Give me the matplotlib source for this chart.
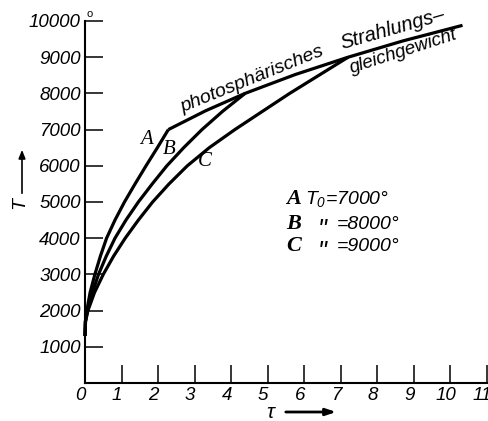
import matplotlib
matplotlib.use("Agg")
import matplotlib.pyplot as plt
from matplotlib.patches import FancyArrowPatch
from matplotlib.transforms import ScaledTranslation

plt.rcParams["mathtext.fontset"] = "custom"
plt.rcParams["mathtext.it"] = "Liberation Sans:italic"
plt.rcParams["mathtext.rm"] = "Liberation Sans:italic"

# Kurven A, B, C (tau, T)
tau_A = [0.0, 0.01, 0.05, 0.14, 0.27, 0.42, 0.59, 0.82, 1.08, 1.37, 1.67, 1.98, 2.28]
T_A = [1300, 1700, 2000, 2500, 3000, 3500, 4000, 4500, 5000, 5500, 6000, 6500, 7000]

tau_B = [0.0, 0.012, 0.07, 0.2, 0.37, 0.58, 0.82, 1.12, 1.46, 1.84, 2.24, 2.7, 3.2, 3.76, 4.38]
T_B = [1300, 1700, 2000, 2500, 3000, 3500, 4000, 4500, 5000, 5500, 6000, 6500, 7000, 7500, 8000]

tau_C = [0.0, 0.015, 0.08, 0.26, 0.5, 0.78, 1.1, 1.46, 1.85, 2.3, 2.8, 3.4, 4.1, 4.85, 5.6, 6.4, 7.2]
T_C = [1300, 1700, 2000, 2500, 3000, 3500, 4000, 4500, 5000, 5500, 6000, 6500, 7000, 7500,
       8000, 8500, 9000]

# photosphärisches Strahlungsgleichgewicht
tau_eq = [2.28, 3.3, 4.38, 5.75, 7.2, 8.7, 10.33]
T_eq = [7000, 7520, 8000, 8520, 9000, 9450, 9880]

x_ticks = list(range(0, 12))
y_ticks = list(range(1000, 11000, 1000))
legend_rows = [("A", "$T_0$=7000°"), ("B", "=8000°"), ("C", "=9000°")]

sans = "Liberation Sans"
serif = "Liberation Serif"

fig = plt.figure(figsize=(4.88, 4.21), dpi=100)
ax = fig.add_axes([85 / 488, 38 / 421, 402 / 488, 362 / 421])

for t, T in [(tau_A, T_A), (tau_B, T_B), (tau_C, T_C), (tau_eq, T_eq)]:
    ax.plot(t, T, color="black", linewidth=2.3, solid_capstyle="butt",
            solid_joinstyle="miter", clip_on=False)

ax.set_xlim(0, 11)
ax.set_ylim(0, 10000)
ax.spines["top"].set_visible(False)
ax.spines["right"].set_visible(False)
for s in ["left", "bottom"]:
    ax.spines[s].set_linewidth(1.5)

ax.set_xticks(x_ticks)
ax.set_xticklabels([str(v) for v in x_ticks], fontfamily=sans, fontstyle="italic", fontsize=13.5)
ax.set_yticks(y_ticks)
ax.set_yticklabels([str(v) for v in y_ticks], fontfamily=sans, fontstyle="italic", fontsize=13.5)
ax.tick_params(direction="in", length=13, width=1.1, pad=3)
# Zahlen etwas nach links versetzt wie im Original
shift = ScaledTranslation(-0.045, 0, fig.dpi_scale_trans)
for lab in ax.get_xticklabels():
    lab.set_transform(lab.get_transform() + shift)
ax.text(0.14, 10190, "o", fontfamily=sans, fontsize=8, ha="center", va="center", clip_on=False)

# Kurvenbezeichnungen
ax.text(1.67, 6735, "A", fontfamily=serif, fontstyle="italic", fontsize=15, ha="center", va="center")
ax.text(2.30, 6458, "B", fontfamily=serif, fontstyle="italic", fontsize=15, ha="center", va="center")
ax.text(3.29, 6127, "C", fontfamily=serif, fontstyle="italic", fontsize=15, ha="center", va="center")

ax.text(2.68, 7480, "photosphärisches", fontfamily=sans, fontstyle="italic",
        fontsize=14, rotation=22, rotation_mode="anchor", ha="left", va="baseline")
ax.text(7.04, 9218, "Strahlungs\u2013", fontfamily=sans, fontstyle="italic",
        fontsize=14.5, rotation=16, rotation_mode="anchor", ha="left", va="baseline", clip_on=False)
ax.text(7.3, 8560, "gleichgewicht", fontfamily=sans, fontstyle="italic",
        fontsize=13.5, rotation=18, rotation_mode="anchor", ha="left", va="baseline")

# Legende
row_T = [4940, 4250, 3650]
for i, (letter, val) in enumerate(legend_rows):
    ax.text(5.70, row_T[i], letter, fontfamily=serif, fontstyle="italic", fontweight="bold",
            fontsize=16, ha="center", va="baseline")
    if i == 0:
        ax.text(6.03, row_T[i], val, fontfamily=sans, fontstyle="italic", fontsize=14,
                ha="left", va="baseline")
    else:
        ax.text(6.49, row_T[i] - 230, '"', fontfamily=sans, fontstyle="italic", fontsize=18,
                ha="center", va="baseline")
        ax.text(6.90, row_T[i], val, fontfamily=sans, fontstyle="italic", fontsize=14,
                ha="left", va="baseline")

# Achsenbeschriftungen mit Pfeilen
fig.text(20 / 488, 1 - 203 / 421, "T", fontfamily=sans, fontstyle="italic", fontsize=14,
         rotation=90, ha="center", va="center")
fig.patches.append(FancyArrowPatch(
    (22 / 488, 1 - 196 / 421), (22 / 488, 1 - 147 / 421), transform=fig.transFigure,
    arrowstyle="-|>,head_length=5,head_width=2", linewidth=1.2, color="black"))
fig.text(270 / 488, 1 - 413 / 421, "τ", fontfamily=sans, fontstyle="italic", fontsize=15,
         ha="center", va="center")
fig.patches.append(FancyArrowPatch(
    (283 / 488, 1 - 412 / 421), (339 / 488, 1 - 412 / 421), transform=fig.transFigure,
    arrowstyle="-|>,head_length=6,head_width=2", linewidth=2, color="black"))

plt.savefig("out.png", dpi=100)
plt.close()
